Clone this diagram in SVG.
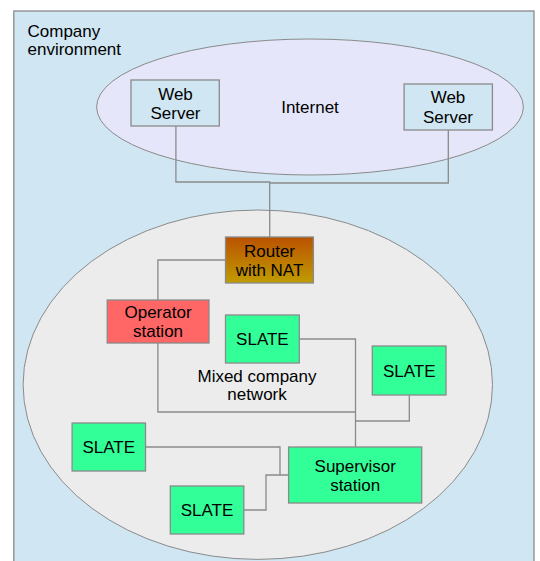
<svg xmlns="http://www.w3.org/2000/svg" width="540" height="561" viewBox="0 0 540 561">
<defs>
<linearGradient id="rg" x1="0" y1="0" x2="0" y2="1">
<stop offset="0" stop-color="#bb5200"/>
<stop offset="1" stop-color="#bf9c00"/>
</linearGradient>
</defs>
<style>
text{font-family:"Liberation Sans",Arial,sans-serif;font-size:17px;fill:#000}
.c{text-anchor:middle}
.box{stroke:#8a8a8a;stroke-width:1.3}
.g{fill:#33ff99}
.conn{fill:none;stroke:#8a8a8a;stroke-width:1.3}
</style>
<g id="company">
<rect x="13.8" y="11" width="520.2" height="560" fill="#d0e6f3" stroke="#8a8a8a" stroke-width="1.3"/>
<text x="27.5" y="37">Company</text>
<text x="27.5" y="55">environment</text>
</g>
<g id="internet">
<ellipse cx="310" cy="107" rx="213.4" ry="68" fill="#e6e6fa" stroke="#8a8a8a" stroke-width="1"/>
<text class="c" x="310" y="113">Internet</text>
</g>
<g id="network">
<ellipse cx="257.8" cy="384.7" rx="234.7" ry="174.7" fill="#ececec" stroke="#8a8a8a" stroke-width="1"/>
<text class="c" x="257" y="382">Mixed company</text>
<text class="c" x="257" y="400">network</text>
</g>
<g id="connectors">
<polyline class="conn" points="175.9,126 175.9,182 269.7,182 269.7,237"/>
<polyline class="conn" points="448.3,130 448.3,183 269.7,183"/>
<polyline class="conn" points="225.5,260 157.9,260 157.9,300"/>
<polyline class="conn" points="157.9,343 157.9,412 355.5,412"/>
<polyline class="conn" points="299.3,339 355.5,339 355.5,447"/>
<polyline class="conn" points="409.3,395 409.3,421 355.5,421"/>
<polyline class="conn" points="145.5,447 280,447 280,475"/>
<polyline class="conn" points="243.8,510 266,510 266,475 288.6,475"/>
</g>
<g id="web1">
<rect class="box" x="131" y="80" width="88.3" height="46" fill="#d0e6f3"/>
<text class="c" x="175.5" y="100">Web</text>
<text class="c" x="175.5" y="119">Server</text>
</g>
<g id="web2">
<rect class="box" x="404.1" y="84" width="88.3" height="46" fill="#d0e6f3"/>
<text class="c" x="448" y="103">Web</text>
<text class="c" x="448" y="123">Server</text>
</g>
<g id="router">
<rect class="box" x="225.5" y="237" width="87.9" height="46" fill="url(#rg)"/>
<text class="c" x="269.5" y="257">Router</text>
<text class="c" x="269.5" y="276">with NAT</text>
</g>
<g id="operator">
<rect class="box" x="107.2" y="300" width="101.8" height="43" fill="#ff6666"/>
<text class="c" x="158" y="318">Operator</text>
<text class="c" x="158" y="337">station</text>
</g>
<g id="slate1">
<rect class="box g" x="225.5" y="315" width="73.8" height="48"/>
<text class="c" x="262.4" y="345">SLATE</text>
</g>
<g id="slate2">
<rect class="box g" x="372.3" y="346" width="73.7" height="49"/>
<text class="c" x="409.2" y="377">SLATE</text>
</g>
<g id="slate3">
<rect class="box g" x="72.1" y="423" width="73.4" height="48"/>
<text class="c" x="108.8" y="453">SLATE</text>
</g>
<g id="slate4">
<rect class="box g" x="170.3" y="486" width="73.5" height="48"/>
<text class="c" x="207" y="516">SLATE</text>
</g>
<g id="supervisor">
<rect class="box g" x="288.6" y="447" width="133.1" height="56"/>
<text class="c" x="355.2" y="472">Supervisor</text>
<text class="c" x="355.2" y="491">station</text>
</g>
</svg>
